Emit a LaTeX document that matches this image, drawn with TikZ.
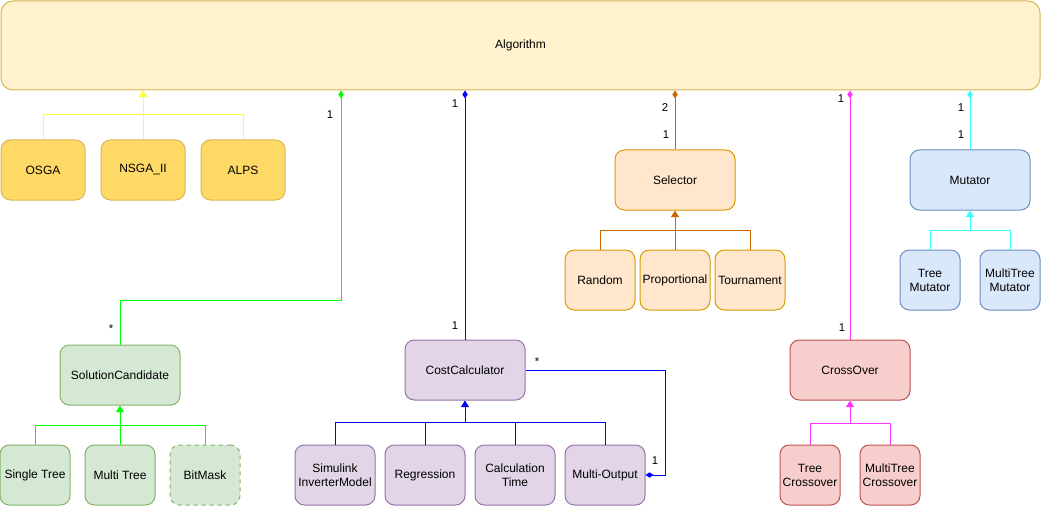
\documentclass[tikz,border=0pt]{standalone}
\usepackage{fontspec}
\setmainfont{Liberation Sans}
\usetikzlibrary{arrows.meta}

\definecolor{yelfill}{HTML}{FFD966}
\definecolor{yeldraw}{HTML}{D6B656}
\definecolor{algfill}{HTML}{FFF2CC}
\definecolor{grnfill}{HTML}{D5E8D4}
\definecolor{grndraw}{HTML}{82B366}
\definecolor{purfill}{HTML}{E1D5E7}
\definecolor{purdraw}{HTML}{9673A6}
\definecolor{orgfill}{HTML}{FFE6CC}
\definecolor{orgdraw}{HTML}{D79B00}
\definecolor{bluefill}{HTML}{DAE8FC}
\definecolor{bluedraw}{HTML}{6C8EBF}
\definecolor{redfill}{HTML}{F8CECC}
\definecolor{reddraw}{HTML}{B85450}
\definecolor{lnyel}{HTML}{FFFF33}
\definecolor{lngrn}{HTML}{00FF00}
\definecolor{lnblu}{HTML}{0000FF}
\definecolor{lnorg}{HTML}{CC6600}
\definecolor{lnmag}{HTML}{FF33FF}
\definecolor{lncya}{HTML}{33FFFF}

\tikzset{
  ent/.style 2 args={draw, rounded corners=7pt, line width=0.75pt,
    minimum width=#1*0.75pt, minimum height=#2*0.75pt, inner sep=0pt,
    align=center, font=\fontsize{9}{10.5}\selectfont},
  lbl/.style={inner sep=0pt, font=\fontsize{8.5}{10}\selectfont},
  conn/.style={line width=0.75pt},
  inh/.style={conn, -{Triangle[length=5pt,width=6pt]}},
  comp/.style={conn, -{Diamond[length=6pt,width=4pt]}}
}

\begin{document}
\begin{tikzpicture}[x=0.75pt, y=-0.75pt]
    \useasboundingbox (0,0) rectangle (1041,506);

    % algorithm
    \node (alg) at (520.5,45.5) [ent={1039}{89}, rounded corners=9pt, fill=algfill, draw=yeldraw] {Algorithm};

    \foreach \n/\x/\t in {osga/43/OSGA, nsga/143/{NSGA\_II}, alps/243/ALPS}
             { \node (\n) at (\x,170) [ent={84}{60}, fill=yelfill, draw=yeldraw] {\t};}
    \coordinate (yj) at (143,115);
    \draw[conn, lnyel] (osga.north) -- (osga.north |- yj) -- (alps.north |- yj) -- (alps.north);
    \draw[inh, lnyel] (nsga.north) -- (alg.south -| nsga.north);

    % solution candidate
    \node (sol) at (120,375) [ent={120}{60}, fill=grnfill, draw=grndraw] {SolutionCandidate};
    \foreach \n/\x/\t in {single/35/Single Tree, multi/120/Multi Tree}
             { \node (\n) at (\x,475) [ent={70}{60}, fill=grnfill, draw=grndraw] {\t};}
    \node (bitmask) at (205,475) [ent={70}{60}, fill=grnfill, draw=grndraw, dashed] {BitMask};
    \coordinate (gj) at (120,425);
    \draw[conn, lngrn] (single.north) -- (single.north |- gj) -- (bitmask.north |- gj) -- (bitmask.north);
    \draw[inh, lngrn] (multi.north) -- (sol.south);
    \coordinate (gb) at (341,300);
    \draw[comp, lngrn] (sol.north) |- (gb) -- (alg.south -| gb);
    \node (g1) at (330,115) [lbl] {1};
    \node (g2) at (111,329) [lbl] {*};

    % cost calculator
    \node (cost) at (465,370) [ent={120}{60}, fill=purfill, draw=purdraw] {CostCalculator};
    \foreach \n/\x/\t in {simulink/335/{Simulink\\InverterModel}, regression/425/Regression,
                          calctime/515/{Calculation\\Time}, multiout/605/Multi-Output}
             { \node (\n) at (\x,475) [ent={80}{60}, fill=purfill, draw=purdraw] {\t};}
    \coordinate (bj) at (465,422);
    \draw[conn, lnblu] (simulink.north) -- (simulink.north |- bj) -- (multiout.north |- bj) -- (multiout.north);
    \foreach \n in {regression,calctime}
             { \draw[conn, lnblu] (\n.north) -- (\n.north |- bj);}
    \draw[inh, lnblu] (bj) -- (cost.south);
    \draw[comp, lnblu] (cost.north) -- (alg.south -| cost.north);
    \coordinate (bb) at (665,370);
    \draw[comp, lnblu] (cost.east) -- (bb) |- (multiout.east);
    \node (b1) at (455,104) [lbl] {1};
    \node (b2) at (455,326) [lbl] {1};
    \node (b3) at (537,362) [lbl] {*};
    \node (b4) at (655,461) [lbl] {1};

    % selector
    \node (sel) at (675,180) [ent={120}{60}, fill=orgfill, draw=orgdraw] {Selector};
    \foreach \n/\x/\t in {random/600/Random, prop/675/Proportional, tourn/750/Tournament}
             { \node (\n) at (\x,280) [ent={70}{60}, fill=orgfill, draw=orgdraw] {\t};}
    \coordinate (oj) at (675,230);
    \draw[conn, lnorg] (random.north) -- (random.north |- oj) -- (tourn.north |- oj) -- (tourn.north);
    \draw[inh, lnorg] (prop.north) -- (sel.south);
    \draw[comp, lnorg] (sel.north) -- (alg.south -| sel.north);
    \node (o1) at (665,108) [lbl] {2};
    \node (o2) at (666,135) [lbl] {1};

    % crossover
    \node (cross) at (850,370) [ent={120}{60}, fill=redfill, draw=reddraw] {CrossOver};
    \foreach \n/\x/\t in {treecross/810/{Tree\\Crossover}, mtcross/890/{MultiTree\\Crossover}}
             { \node (\n) at (\x,475) [ent={60}{60}, fill=redfill, draw=reddraw] {\t};}
    \coordinate (mj) at (850,423);
    \draw[conn, lnmag] (treecross.north) -- (treecross.north |- mj) -- (mtcross.north |- mj) -- (mtcross.north);
    \draw[inh, lnmag] (mj) -- (cross.south);
    \draw[comp, lnmag] (cross.north) -- (alg.south -| cross.north);
    \node (m1) at (841,99) [lbl] {1};
    \node (m2) at (842,328) [lbl] {1};

    % mutator
    \node (mut) at (970,180) [ent={120}{60}, fill=bluefill, draw=bluedraw] {Mutator};
    \foreach \n/\x/\t in {treemut/930/{Tree\\Mutator}, mtmut/1010/{MultiTree\\Mutator}}
             { \node (\n) at (\x,280) [ent={60}{60}, fill=bluefill, draw=bluedraw] {\t};}
    \coordinate (cj) at (970,230);
    \draw[conn, lncya] (treemut.north) -- (treemut.north |- cj) -- (mtmut.north |- cj) -- (mtmut.north);
    \draw[inh, lncya] (cj) -- (mut.south);
    \draw[comp, lncya] (mut.north) -- (alg.south -| mut.north);
    \node (c1) at (961,108) [lbl] {1};
    \node (c2) at (961,135) [lbl] {1};

\end{tikzpicture}
\end{document}
